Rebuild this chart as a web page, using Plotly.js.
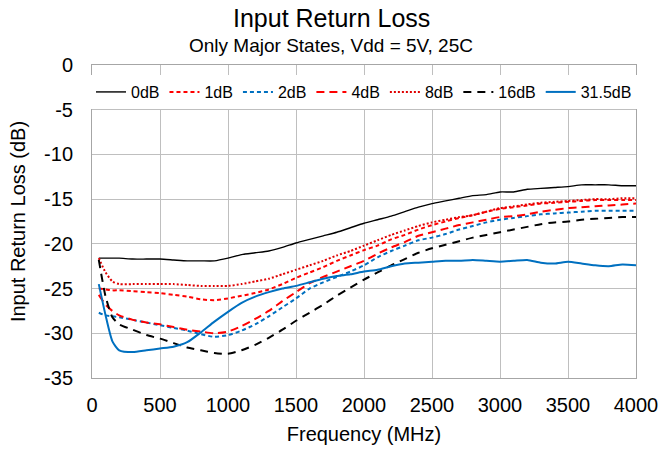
<!DOCTYPE html>
<html><head><meta charset="utf-8">
<script src="https://cdn.plot.ly/plotly-3.0.1.min.js"></script>
<style>html,body{margin:0;padding:0;background:#fff}#chart{width:662px;height:450px}</style>
</head><body><div id="chart"></div>
<script>
const freq = [50,100,150,200,300,400,500,600,700,800,900,1000,1100,1200,1300,1400,1500,1600,1700,1800,1900,2000,2100,2200,2300,2400,2500,2600,2700,2800,2900,3000,3100,3200,3300,3400,3500,3600,3700,3800,3900,4000];
const s0dB = [-21.6,-21.6,-21.6,-21.6,-21.7,-21.7,-21.7,-21.8,-21.9,-21.9,-21.9,-21.6,-21.2,-21.0,-20.8,-20.4,-19.9,-19.5,-19.1,-18.7,-18.2,-17.7,-17.3,-16.9,-16.4,-15.9,-15.5,-15.2,-14.9,-14.6,-14.5,-14.2,-14.2,-13.9,-13.8,-13.7,-13.6,-13.4,-13.4,-13.4,-13.5,-13.5];
const s1dB = [-25.0,-25.1,-25.2,-25.2,-25.3,-25.4,-25.5,-25.7,-25.9,-26.2,-26.3,-26.1,-25.8,-25.5,-25.1,-24.5,-23.8,-23.2,-22.6,-21.9,-21.3,-20.7,-20.2,-19.5,-19.0,-18.4,-17.9,-17.5,-17.1,-16.8,-16.4,-16.1,-15.9,-15.7,-15.5,-15.4,-15.3,-15.2,-15.1,-15.1,-15.1,-15.1];
const s2dB = [-27.7,-28.0,-28.1,-28.2,-28.5,-28.8,-29.1,-29.4,-29.7,-30.1,-30.4,-30.2,-29.7,-29.0,-28.1,-27.1,-26.1,-25.0,-24.3,-23.7,-23.1,-22.4,-21.5,-20.8,-20.2,-19.6,-19.3,-18.9,-18.4,-18.0,-17.6,-17.3,-17.1,-16.9,-16.7,-16.6,-16.5,-16.4,-16.3,-16.3,-16.3,-16.3];
const s4dB = [-25.7,-26.8,-27.5,-28.0,-28.5,-28.8,-29.0,-29.3,-29.6,-29.8,-30.0,-29.8,-29.2,-28.4,-27.5,-26.4,-25.4,-24.4,-23.7,-23.1,-22.5,-21.9,-21.1,-20.4,-19.8,-19.1,-18.7,-18.3,-17.9,-17.6,-17.3,-17.0,-16.9,-16.7,-16.4,-16.2,-16.0,-15.9,-15.8,-15.7,-15.6,-15.5];
const s8dB = [-21.6,-23.2,-24.2,-24.5,-24.5,-24.5,-24.5,-24.5,-24.6,-24.7,-24.7,-24.7,-24.5,-24.2,-23.9,-23.4,-22.9,-22.4,-21.9,-21.3,-20.8,-20.2,-19.6,-19.0,-18.5,-18.0,-17.6,-17.3,-17.0,-16.8,-16.4,-16.0,-15.8,-15.6,-15.4,-15.3,-15.2,-15.1,-15.0,-15.0,-14.9,-14.9];
const s16dB = [-21.8,-25.9,-28.2,-29.0,-29.6,-30.2,-30.6,-31.1,-31.6,-31.9,-32.2,-32.3,-31.9,-31.3,-30.5,-29.6,-28.6,-27.7,-26.8,-25.8,-24.9,-24.0,-23.2,-22.4,-21.7,-21.0,-20.5,-20.1,-19.7,-19.3,-19.0,-18.7,-18.4,-18.1,-17.8,-17.6,-17.5,-17.3,-17.2,-17.1,-17.0,-17.0];
const s31p5dB = [-24.5,-28.0,-30.9,-31.9,-32.1,-31.9,-31.7,-31.5,-31.0,-29.9,-28.7,-27.6,-26.6,-25.9,-25.4,-25.0,-24.7,-24.3,-23.9,-23.6,-23.4,-23.1,-22.9,-22.5,-22.2,-22.1,-22.0,-21.9,-21.9,-21.8,-21.9,-22.0,-21.9,-21.8,-22.1,-22.2,-22.0,-22.2,-22.4,-22.5,-22.3,-22.4];
const seriesNames = ['0dB','1dB','2dB','4dB','8dB','16dB','31.5dB'];
const xTicks = [0,500,1000,1500,2000,2500,3000,3500,4000];
const yTicks = [0,-5,-10,-15,-20,-25,-30,-35];
const titleText = 'Input Return Loss';
const subtitleText = 'Only Major States, Vdd = 5V, 25C';

const FONT = 'Liberation Sans, Arial, sans-serif';
const styles = [
  {color:'#000000', width:1.4, dash:'solid'},
  {color:'#FF0000', width:2, dash:'4px,3px'},
  {color:'#0070C0', width:2, dash:'4px,3px'},
  {color:'#FF0000', width:2, dash:'8px,5px'},
  {color:'#E00000', width:2, dash:'2px,2px'},
  {color:'#000000', width:2, dash:'8px,6px'},
  {color:'#0070C0', width:2, dash:'solid'}
];
const ys = [s0dB,s1dB,s2dB,s4dB,s8dB,s16dB,s31p5dB];
const traces = ys.map((y,i)=>({x:freq, y:y, name:seriesNames[i], type:'scatter', mode:'lines',
  line:{color:styles[i].color, width:styles[i].width, dash:styles[i].dash, shape:'spline', smoothing:0.6}}));

const layout = {
  width:662, height:450,
  margin:{l:92, r:26, t:65, b:72, autoexpand:false},
  paper_bgcolor:'#fff', plot_bgcolor:'#fff',
  font:{family:FONT, color:'#000', size:20},
  showlegend:true,
  legend:{orientation:'h', x:0.5, xanchor:'center', y:0.968, yanchor:'top', bgcolor:'#fff',
    font:{family:FONT, size:16}, itemwidth:30, tracegroupgap:0},
  xaxis:{range:[0,4000], tickvals:xTicks, ticktext:xTicks.map(String), tickangle:0, showgrid:true, gridcolor:'#BFBFBF', gridwidth:1,
    showline:true, linecolor:'#A6A6A6', linewidth:1, mirror:true, zeroline:false, ticks:'', ticklabelstandoff:9,
    tickfont:{family:FONT, size:20},
    title:{text:'Frequency (MHz)', font:{family:FONT, size:20}, standoff:11}},
  yaxis:{range:[-35,0], tickvals:yTicks, ticktext:yTicks.map(String), showgrid:true, gridcolor:'#BFBFBF', gridwidth:1,
    showline:true, linecolor:'#A6A6A6', linewidth:1, mirror:true, zeroline:false, ticks:'', ticklabelstandoff:14,
    tickfont:{family:FONT, size:20},
    title:{text:'Input Return Loss (dB)', font:{family:FONT, size:20}, standoff:13}},
  annotations:[
    {text:titleText, showarrow:false, xref:'paper', yref:'paper', x:(331-92)/544, y:(378-18)/313,
     xanchor:'center', yanchor:'middle', font:{family:FONT, size:25}},
    {text:subtitleText, showarrow:false, xref:'paper', yref:'paper', x:(331-92)/544, y:(378-45)/313,
     xanchor:'center', yanchor:'middle', font:{family:FONT, size:19}}
  ]
};
Plotly.newPlot('chart', traces, layout, {displayModeBar:false, staticPlot:true});
</script></body></html>
